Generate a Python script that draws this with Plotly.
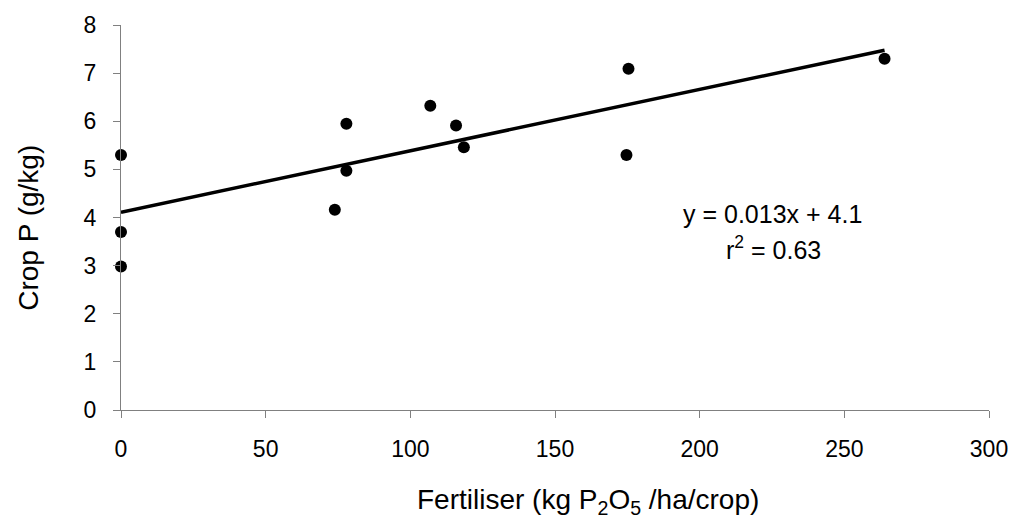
import numpy as np
import plotly.graph_objects as go

fert = [0, 0, 0, 73.9, 77.9, 77.9, 106.9, 115.8, 118.5, 175.4, 174.7, 263.9]
crop_p = [5.30, 3.70, 2.98, 4.16, 5.95, 4.97, 6.32, 5.91, 5.46, 7.09, 5.30, 7.30]
x_ticks = [0, 50, 100, 150, 200, 250, 300]
y_ticks = [0, 1, 2, 3, 4, 5, 6, 7, 8]

slope, intercept = np.polyfit(fert, crop_p, 1)
line_x = [min(fert), max(fert)]
line_y = [intercept + slope * v for v in line_x]

FONT = "Liberation Sans, Arial, sans-serif"
L, R, T, B = 121, 27, 18, 116
PW, PH = 1020 - L - R, 526 - T - B


def px(xp):
    return (xp - L) / PW


def py(yp):
    return (526 - B - yp) / PH


fig = go.Figure()
fig.add_trace(go.Scatter(x=line_x, y=line_y, mode="lines",
                         line=dict(color="black", width=3.5), cliponaxis=False,
                         showlegend=False, hoverinfo="skip"))
fig.add_trace(go.Scatter(x=fert, y=crop_p, mode="markers",
                         marker=dict(color="black", size=12), cliponaxis=False,
                         showlegend=False))

fig.update_layout(
    width=1020, height=526,
    margin=dict(l=L, r=R, t=T, b=B),
    paper_bgcolor="white", plot_bgcolor="white",
    font=dict(family=FONT, size=23, color="black"),
    xaxis=dict(range=[0, 300], tickvals=x_ticks, showgrid=False, zeroline=False,
               showline=True, linecolor="#808080", linewidth=1,
               ticks="outside", ticklen=7, tickcolor="#808080",
               tickfont=dict(size=23), ticklabelstandoff=11),
    yaxis=dict(range=[0, 8], tickvals=y_ticks, showgrid=False, zeroline=False,
               showline=True, linecolor="#808080", linewidth=1,
               ticks="outside", ticklen=7, tickcolor="#808080",
               tickfont=dict(size=23), ticklabelstandoff=12),
    annotations=[
        dict(text="Fertiliser (kg P<sub>2</sub>O<sub>5</sub> /ha/crop)",
             xref="paper", yref="paper", x=px(590), y=py(503),
             xanchor="center", yanchor="middle", showarrow=False,
             font=dict(size=28)),
        dict(text="Crop P (g/kg)", xref="paper", yref="paper",
             x=px(28), y=py(224), textangle=-90,
             xanchor="center", yanchor="middle", showarrow=False,
             font=dict(size=28)),
        dict(text="y = 0.013x + 4.1",
             xref="paper", yref="paper", x=px(776), y=py(210),
             xanchor="center", yanchor="middle", showarrow=False,
             font=dict(size=25)),
        dict(text="r<sup>2</sup> = 0.63",
             xref="paper", yref="paper", x=px(777), y=py(245),
             xanchor="center", yanchor="middle", showarrow=False,
             font=dict(size=25)),
    ],
)

fig.write_html("out.html")
